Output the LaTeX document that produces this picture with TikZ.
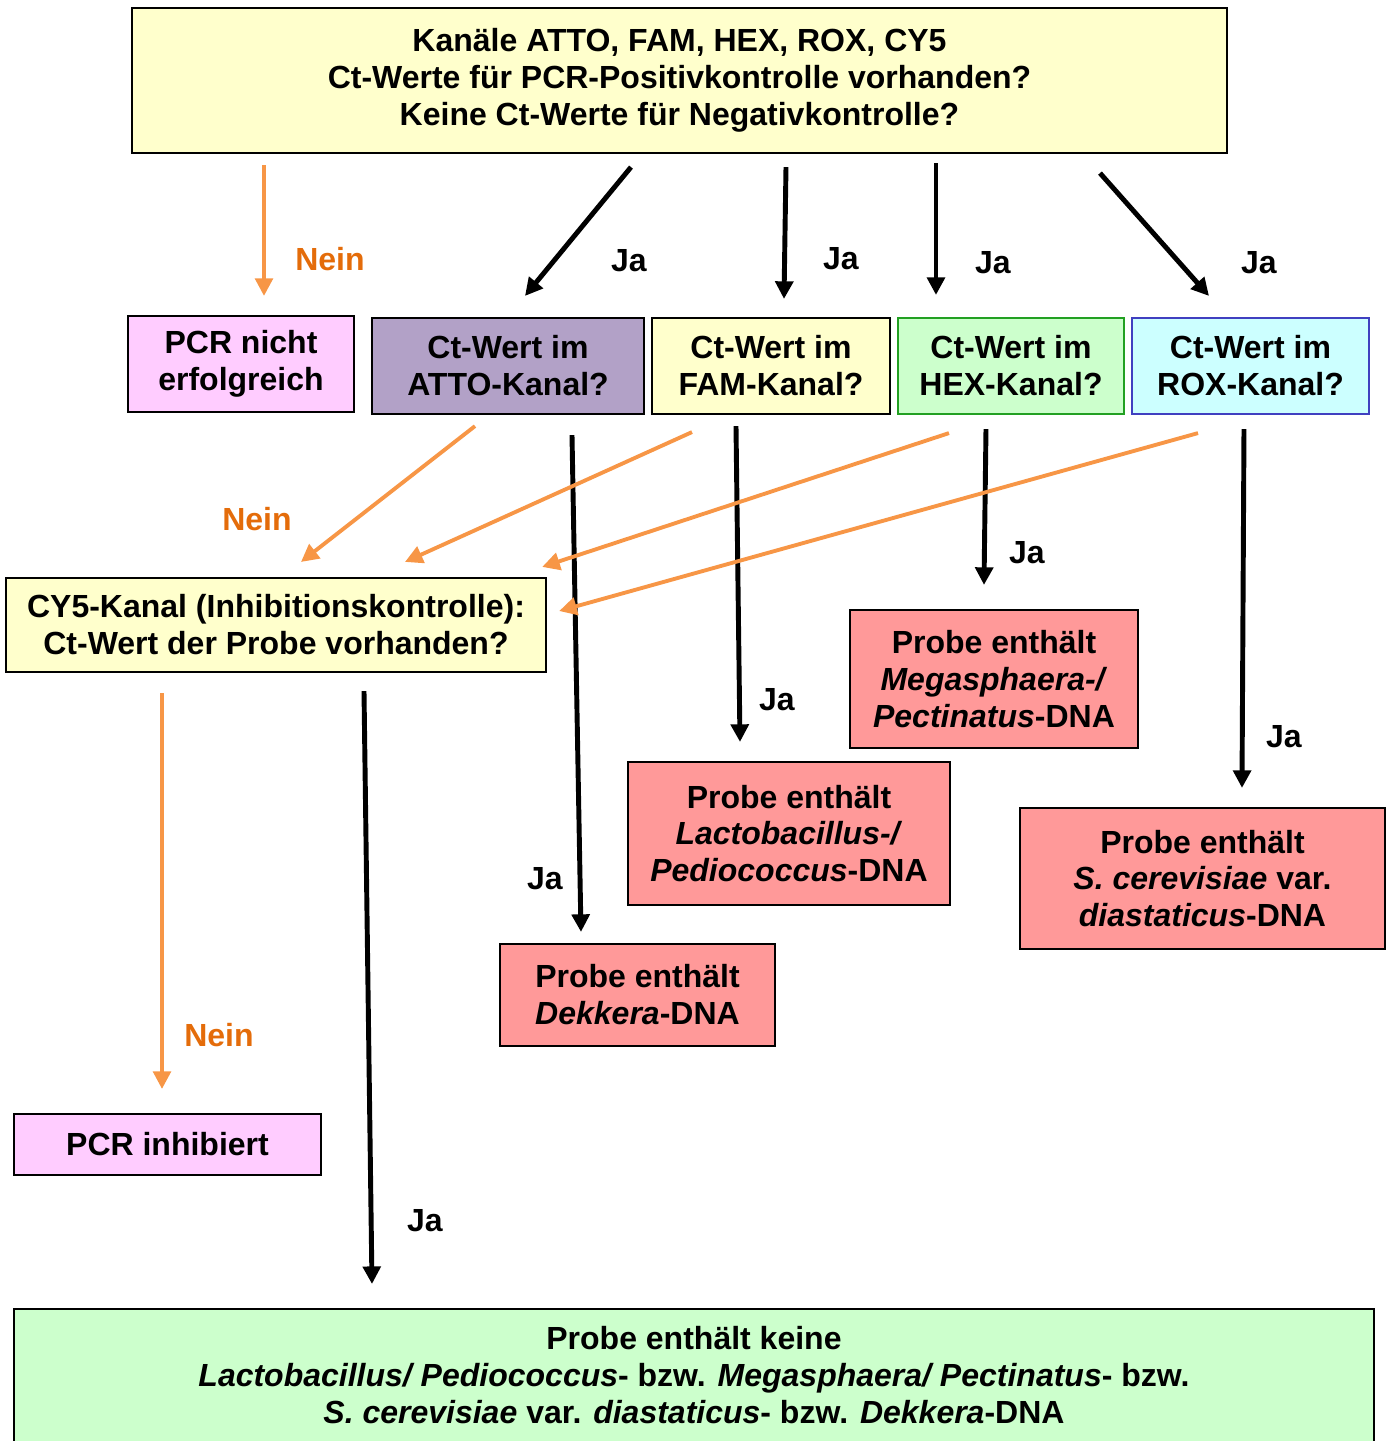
\documentclass[tikz,border=0pt]{standalone}
\usepackage{fontspec}
\setmainfont{Liberation Sans}
\usetikzlibrary{arrows.meta}
\definecolor{gelb}{HTML}{FFFFCC}
\definecolor{rosa}{HTML}{FFCCFF}
\definecolor{lila}{HTML}{B2A1C7}
\definecolor{hellgruen}{HTML}{CCFFCC}
\definecolor{hellblau}{HTML}{CCFFFF}
\definecolor{lachs}{HTML}{FF9999}
\definecolor{orangepfeil}{HTML}{F79646}
\definecolor{orangetext}{HTML}{E46C0A}
\definecolor{hexrand}{HTML}{22A022}
\definecolor{roxrand}{HTML}{4040C0}
\begin{document}
\begin{tikzpicture}[x=0.01cm,y=-0.01cm,
    >={Triangle[length=5pt,width=5pt]},
    box/.style={draw,line width=0.6pt,align=center,inner sep=0pt,
        font=\fontsize{9.1}{10.5}\selectfont\bfseries},
    ja/.style={->,line width=1.4pt},
    nein/.style={->,line width=1.1pt,orangepfeil},
    jatext/.style={font=\fontsize{9.1}{10.5}\selectfont\bfseries},
    neintext/.style={font=\fontsize{9.1}{10.5}\selectfont\bfseries,orangetext}]
    \useasboundingbox (0,0) rectangle (1390,1441);
    % Kontrollen
    \node[box,fill=gelb,minimum width=10.95cm,minimum height=1.45cm] (top) at (679.5,80.5)
        {Kanäle ATTO, FAM, HEX, ROX, CY5\\Ct-Werte für PCR-Positivkontrolle vorhanden?\\Keine Ct-Werte für Negativkontrolle?};
    % Kanaele
    \node[box,fill=rosa,minimum width=2.26cm,minimum height=0.96cm] (nicht) at (241,364)
        {PCR nicht\\erfolgreich};
    \node[box,fill=lila,minimum width=2.72cm,minimum height=0.96cm] (atto) at (508,366)
        {Ct-Wert im\\ATTO-Kanal?};
    \node[box,fill=gelb,minimum width=2.38cm,minimum height=0.96cm] (fam) at (771,366)
        {Ct-Wert im\\FAM-Kanal?};
    \node[box,fill=hellgruen,draw=hexrand,minimum width=2.26cm,minimum height=0.96cm] (hex) at (1011,366)
        {Ct-Wert im\\HEX-Kanal?};
    \node[box,fill=hellblau,draw=roxrand,minimum width=2.37cm,minimum height=0.96cm] (rox) at (1250.5,366)
        {Ct-Wert im\\ROX-Kanal?};
    % Inhibitionskontrolle
    \node[box,fill=gelb,minimum width=5.40cm,minimum height=0.94cm] (cy5) at (276,625)
        {CY5-Kanal (Inhibitionskontrolle):\\Ct-Wert der Probe vorhanden?};
    % Ergebnisse
    \node[box,fill=lachs,minimum width=2.88cm,minimum height=1.38cm] (mega) at (994,679)
        {Probe enthält\\\textit{Megasphaera-/}\\\textit{Pectinatus}-DNA};
    \node[box,fill=lachs,minimum width=3.22cm,minimum height=1.43cm] (lacto) at (789,833.5)
        {Probe enthält\\\textit{Lactobacillus-/}\\\textit{Pediococcus}-DNA};
    \node[box,fill=lachs,minimum width=3.65cm,minimum height=1.41cm] (scer) at (1202.5,878.5)
        {Probe enthält\\\textit{S. cerevisiae} var.\\\textit{diastaticus}-DNA};
    \node[box,fill=lachs,minimum width=2.75cm,minimum height=1.02cm] (dekkera) at (637.5,995)
        {Probe enthält\\\textit{Dekkera}-DNA};
    \node[box,fill=rosa,minimum width=3.07cm,minimum height=0.61cm] (inhib) at (167.5,1144.5)
        {PCR inhibiert};
    \node[box,fill=hellgruen,minimum width=13.60cm,inner ysep=5pt,anchor=north] (keine) at (694,1308)
        {Probe enthält keine\\\textit{Lactobacillus/ Pediococcus}- bzw. \textit{Megasphaera/ Pectinatus}- bzw.\\\textit{S. cerevisiae} var. \textit{diastaticus}- bzw. \textit{Dekkera}-DNA};
    % Pfeile von oben
    \draw[nein] ([shift={(-415.5,11)}]top.south) -- ([shift={(23,-19)}]nicht.north);
    \draw[ja] ([shift={(-48.5,13)}]top.south) -- ([shift={(17,-21)}]atto.north);
    \draw[ja] ([shift={(106.5,13)}]top.south) -- ([shift={(13,-18)}]fam.north);
    \draw[ja] ([shift={(256.5,9)}]top.south) -- ([shift={(-75,-22)}]hex.north);
    \draw[ja] ([shift={(420.5,19)}]top.south) -- ([shift={(-41.5,-21)}]rox.north);
    \node[neintext] (n1) at (330,259) {Nein};
    \node[jatext] (j1) at (629,261) {Ja};
    \node[jatext] (j2) at (841,259) {Ja};
    \node[jatext] (j3) at (993,263) {Ja};
    \node[jatext] (j4) at (1259,263) {Ja};
    % Kanaele -> Ergebnis
    \draw[ja] ([shift={(64,20)}]atto.south) -- ([shift={(-56.5,-11)}]dekkera.north);
    \draw[ja] ([shift={(-35,11)}]fam.south) -- ([shift={(-49,-19)}]lacto.north);
    \draw[ja] ([shift={(-25,14)}]hex.south) -- ([shift={(-10,-24)}]mega.north);
    \draw[ja] ([shift={(-6.5,14)}]rox.south) -- ([shift={(39.5,-19)}]scer.north);
    \node[jatext] (j5) at (545,879) {Ja};
    \node[jatext] (j6) at (777,700) {Ja};
    \node[jatext] (j7) at (1027,553) {Ja};
    \node[jatext] (j8) at (1284,737) {Ja};
    % Kanaele -> CY5
    \draw[nein] ([shift={(-33,11)}]atto.south) -- ([shift={(25,-15)}]cy5.north);
    \draw[nein] ([shift={(-79,17)}]fam.south) -- ([shift={(129,-15)}]cy5.north);
    \draw[nein] ([shift={(-62,18)}]hex.south) -- ([shift={(-5,-10)}]cy5.north east);
    \draw[nein] ([shift={(-52.5,18)}]rox.south) -- ([shift={(12,-14)}]cy5.east);
    \node[neintext] (n2) at (257,519) {Nein};
    % CY5 -> Ende
    \draw[nein] ([shift={(-114,20)}]cy5.south) -- ([shift={(-5.5,-24)}]inhib.north);
    \draw[ja] ([shift={(88,18)}]cy5.south) -- ([shift={(-322,-24)}]keine.north);
    \node[neintext] (n3) at (219,1035) {Nein};
    \node[jatext] (j9) at (425,1221) {Ja};
\end{tikzpicture}
\end{document}
